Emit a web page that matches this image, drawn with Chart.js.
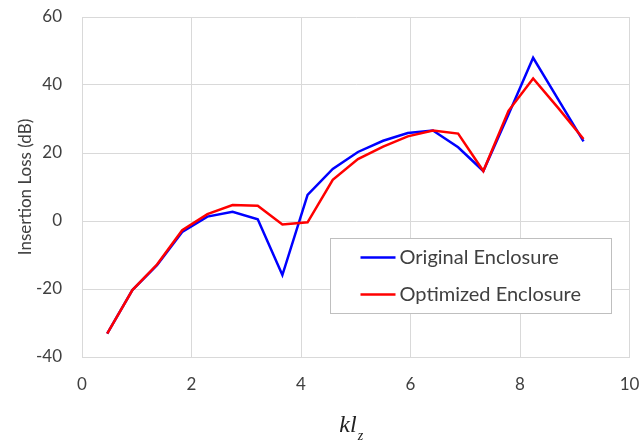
<!DOCTYPE html>
<html>
<head>
<meta charset="utf-8">
<script src="https://cdn.jsdelivr.net/npm/chart.js@4.4.1/dist/chart.umd.min.js"></script>
<style>
    html, body { margin: 0; padding: 0; background: #fff; }
    #wrap { width: 641px; height: 442px; position: relative; }
</style>
</head>
<body>
<div id="wrap"><canvas id="loss-chart"></canvas></div>
<script>
// kl_z values along the x axis
const klz = [0.46, 0.92, 1.37, 1.83, 2.29, 2.75, 3.21, 3.66, 4.12, 4.58,
             5.04, 5.50, 5.95, 6.41, 6.87, 7.33, 7.79, 8.24, 8.70, 9.16]

// Insertion loss (dB)
const originalLoss = [-33.1, -20.3, -13.0, -3.2, 1.3, 2.7, 0.5, -15.9, 7.7, 15.3,
                      20.3, 23.6, 25.9, 26.6, 21.7, 14.7, 31.3, 48.0, 35.7, 23.4]
const optimizedLoss = [-33.1, -20.3, -12.8, -2.7, 2.0, 4.7, 4.5, -1.0, -0.4, 12.1,
                       18.2, 21.9, 24.9, 26.6, 25.7, 14.7, 32.4, 41.9, 33.2, 24.1]

const seriesNames = ["Original Enclosure", "Optimized Enclosure"]
const seriesColors = ["#0000ff", "#ff0000"]

const FONT = "Lato, 'Open Sans', sans-serif"
const TEXT = "#404040"
const GRID = "#d9d9d9"

function toPoints(ys) {
    return ys.map((y, i) => ({ x: klz[i], y }))
}

// legend drawn inside the plot area, like the Excel one
function insideLegendPlugin() {
    return {
        id: "insideLegend",
        afterDraw: (chart) => {
            const { ctx, chartArea } = chart
            const w = chartArea.right - chartArea.left
            const h = chartArea.bottom - chartArea.top
            const x0 = Math.round(chartArea.left + w * 0.453) + 0.5
            const y0 = Math.round(chartArea.top + h * 0.65) + 0.5
            const bw = Math.round(w * 0.513)
            const bh = Math.round(h * 0.221)

            ctx.save()
            ctx.fillStyle = "#ffffff"
            ctx.fillRect(x0, y0, bw, bh)
            ctx.strokeStyle = "#bfbfbf"
            ctx.lineWidth = 1
            ctx.strokeRect(x0, y0, bw, bh)

            ctx.font = "20px " + FONT
            ctx.textBaseline = "middle"
            ctx.textAlign = "left"
            chart.data.datasets.forEach((ds, i) => {
                const ry = y0 + 19 + i * 37
                ctx.strokeStyle = ds.borderColor
                ctx.lineWidth = 2.5
                ctx.beginPath()
                ctx.moveTo(x0 + 30, ry)
                ctx.lineTo(x0 + 65, ry)
                ctx.stroke()
                ctx.fillStyle = TEXT
                ctx.fillText(ds.label, x0 + 69, ry)
            })
            ctx.restore()
        }
    }
}

// x axis title "kl_z" with a subscript z
function subscriptTitlePlugin() {
    return {
        id: "subscriptTitle",
        afterDraw: (chart) => {
            const { ctx, chartArea } = chart
            const cx = (chartArea.left + chartArea.right) / 2 - 5
            const base = chartArea.bottom + 75

            ctx.save()
            ctx.fillStyle = "#222222"
            ctx.textBaseline = "alphabetic"
            ctx.textAlign = "left"
            ctx.font = "italic 24px 'Liberation Serif', 'DejaVu Serif', serif"
            const mainW = ctx.measureText("kl").width
            ctx.font = "italic 14px 'Liberation Serif', 'DejaVu Serif', serif"
            const subW = ctx.measureText("z").width
            const start = cx - (mainW + subW) / 2
            ctx.font = "italic 24px 'Liberation Serif', 'DejaVu Serif', serif"
            ctx.fillText("kl", start, base)
            ctx.font = "italic 14px 'Liberation Serif', 'DejaVu Serif', serif"
            ctx.fillText("z", start + mainW + 1, base + 8)
            ctx.restore()
        }
    }
}

const datasets = seriesNames.map((name, i) => ({
    label: name,
    data: toPoints(i === 0 ? originalLoss : optimizedLoss),
    borderColor: seriesColors[i],
    backgroundColor: seriesColors[i],
    borderWidth: 2.5,
    pointRadius: 0,
    tension: 0,
    order: i === 0 ? 1 : 0
}))

new Chart(document.getElementById("loss-chart").getContext("2d"), {
    type: "line",
    data: { datasets },
    options: {
        responsive: true,
        maintainAspectRatio: false,
        animation: false,
        layout: { padding: { top: 17, right: 11.5, left: 0, bottom: 0 } },
        plugins: {
            legend: { display: false },
            tooltip: { enabled: false }
        },
        scales: {
            x: {
                type: "linear",
                min: 0,
                max: 10,
                ticks: {
                    stepSize: 2,
                    color: TEXT,
                    font: { family: FONT, size: 17 },
                    padding: 17
                },
                grid: { color: GRID, drawTicks: false },
                border: { color: GRID },
                afterFit: (scale) => {
                    scale.height = 85
                    scale.paddingLeft = 0
                    scale.paddingRight = 0
                }
            },
            y: {
                min: -40,
                max: 60,
                ticks: {
                    stepSize: 20,
                    color: TEXT,
                    font: { family: FONT, size: 17 },
                    padding: 20
                },
                grid: { color: GRID, drawTicks: false },
                border: { color: GRID },
                title: {
                    display: true,
                    text: "Insertion Loss (dB)",
                    color: TEXT,
                    font: { family: FONT, size: 17 },
                    padding: { top: 15, bottom: 0 }
                },
                afterFit: (scale) => {
                    scale.width = 82
                    scale.paddingTop = 0
                    scale.paddingBottom = 0
                }
            }
        }
    },
    plugins: [insideLegendPlugin(), subscriptTitlePlugin()]
})
</script>
</body>
</html>
